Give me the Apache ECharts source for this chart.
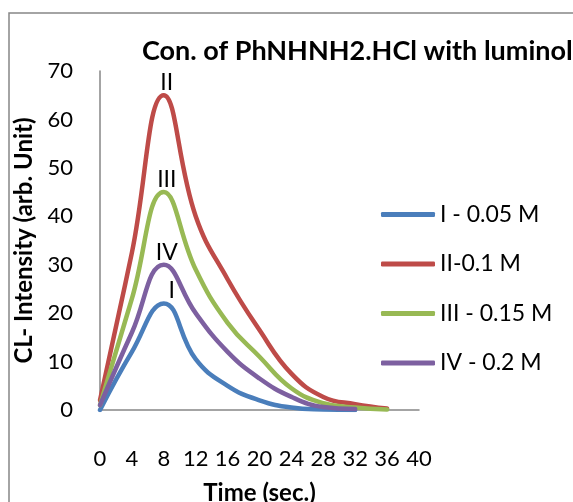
<!DOCTYPE html>
<html>
<head>
<meta charset="utf-8">
<script src="https://cdn.jsdelivr.net/npm/echarts@6/dist/echarts.min.js"></script>
<style>
  html, body { margin: 0; padding: 0; background: #fff; }
  #chart { width: 573px; height: 502px; }
</style>
</head>
<body>
<div id="chart"></div>
<script>
// 时间点 (sec.)
const times = [0, 4, 8, 12, 16, 20, 24, 28, 32, 36];
const xTicks = [0, 4, 8, 12, 16, 20, 24, 28, 32, 36, 40];

// 各浓度的发光强度
const seriesNames = ['I - 0.05 M', 'II-0.1 M', 'III - 0.15 M', 'IV - 0.2 M'];
const peakLabels = ['I', 'II', 'III', 'IV'];
const valuesI = [0, 12, 22, 10.5, 5, 2, 0.5, 0.1, 0];
const valuesII = [2, 32.5, 65, 40, 27, 16.5, 7.5, 2.7, 1.2, 0.3];
const valuesIII = [1, 23, 45, 29, 18, 11, 4.5, 1.4, 0.5, 0.1];
const valuesIV = [1, 16, 30, 20, 12, 6.5, 2.7, 0.6, 0.2];
const colors = ['#4a7ebb', '#be4b48', '#98b954', '#7d60a0'];

const FONT = 'Lato';

function makeSeries(idx, values) {
    const data = values.map((v, i) => [times[i], v]);
    return {
        name: seriesNames[idx],
        type: 'line',
        smooth: 0.45,
        showSymbol: false,
        symbol: 'none',
        data: data,
        lineStyle: { color: colors[idx], width: 4.5, cap: 'round', join: 'round' },
        itemStyle: { color: colors[idx] },
        markPoint: {
            symbol: 'circle',
            symbolSize: 0,
            silent: true,
            data: [{ coord: data[2], value: peakLabels[idx] }],
            label: {
                show: true,
                position: 'top',
                distance: 1,
                formatter: peakLabels[idx],
                color: '#000',
                fontFamily: FONT,
                fontSize: 23,
                offset: [idx === 0 ? 8 : 3, 0]
            }
        }
    };
}

const myChart = echarts.init(document.getElementById('chart'));

const option = {
    backgroundColor: '#fff',
    animation: false,
    title: {
        text: 'Con. of PhNHNH2.HCl with luminol',
        left: 142,
        top: 38,
        padding: 0,
        textStyle: { fontFamily: FONT, fontSize: 27, fontWeight: 'bold', color: '#000' }
    },
    graphic: [{
        type: 'rect',
        shape: { x: 9, y: 13, width: 700, height: 700 },
        style: { fill: 'none', stroke: '#868686', lineWidth: 1.5 },
        silent: true
    }],
    legend: {
        orient: 'vertical',
        left: 381,
        top: 203,
        padding: 0,
        itemWidth: 54,
        itemHeight: 5,
        itemGap: 26.5,
        icon: 'roundRect',
        textStyle: { fontFamily: FONT, fontSize: 23, color: '#000' },
        data: seriesNames
    },
    grid: {
        left: 100,
        right: 154,
        top: 71,
        bottom: 92,
        outerBoundsMode: 'none'
    },
    xAxis: {
        type: 'value',
        min: 0,
        max: 40,
        interval: 4,
        name: 'Time (sec.)',
        nameLocation: 'middle',
        nameGap: 71,
        nameTextStyle: { fontFamily: FONT, fontSize: 24, fontWeight: 'bold', color: '#000' },
        axisLine: { show: true, lineStyle: { color: '#868686', width: 1.5 } },
        axisTick: { show: false },
        splitLine: { show: false },
        axisLabel: {
            margin: 38,
            fontFamily: FONT,
            fontSize: 22,
            color: '#000',
            customValues: xTicks
        }
    },
    yAxis: {
        type: 'value',
        min: 0,
        max: 70,
        interval: 10,
        name: 'CL- Intensity (arb. Unit)',
        nameLocation: 'middle',
        nameGap: 58,
        nameTextStyle: { fontFamily: FONT, fontSize: 24, fontWeight: 'bold', color: '#000' },
        axisLine: { show: true, lineStyle: { color: '#868686', width: 1.5 } },
        axisTick: { show: false },
        splitLine: { show: false },
        axisLabel: {
            margin: 27,
            fontFamily: FONT,
            fontSize: 22,
            color: '#000'
        }
    },
    series: [
        makeSeries(0, valuesI),
        makeSeries(1, valuesII),
        makeSeries(2, valuesIII),
        makeSeries(3, valuesIV)
    ]
};

myChart.setOption(option);
window.addEventListener('resize', () => myChart.resize());
</script>
</body>
</html>
